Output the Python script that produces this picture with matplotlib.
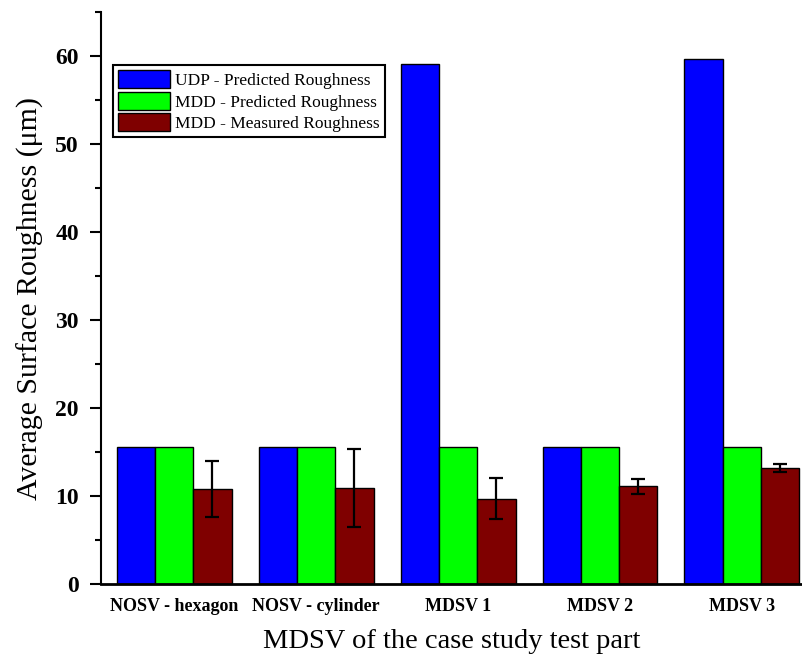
import numpy as np
import matplotlib.pyplot as plt
from matplotlib.ticker import MultipleLocator

# data
categories = ['NOSV - hexagon', 'NOSV - cylinder', 'MDSV 1', 'MDSV 2', 'MDSV 3']
udp_predicted = [15.6, 15.6, 59.1, 15.6, 59.7]
mdd_predicted = [15.6, 15.6, 15.6, 15.6, 15.6]
mdd_measured = [10.8, 10.9, 9.7, 11.1, 13.2]
mdd_measured_err = [3.2, 4.4, 2.3, 0.85, 0.45]

plt.rcParams['font.family'] = 'Liberation Serif'

fig = plt.figure(figsize=(8.03, 6.61), dpi=100)
ax = fig.add_axes([0.1258, 0.1165, 0.8742, 0.8653])

x = np.arange(len(categories))
w = 0.27
ax.bar(x - w, udp_predicted, w, color='#0000FF', edgecolor='black', linewidth=1,
       label='UDP - Predicted Roughness')
ax.bar(x, mdd_predicted, w, color='#00FF00', edgecolor='black', linewidth=1,
       label='MDD - Predicted Roughness')
ax.bar(x + w, mdd_measured, w, color='#7F0000', edgecolor='black', linewidth=1,
       label='MDD - Measured Roughness')
ax.errorbar(x + w, mdd_measured, yerr=mdd_measured_err, fmt='none', ecolor='black',
            elinewidth=1.6, capsize=5, capthick=1.6)

ax.set_xlim(-0.515, 4.43)
ax.set_ylim(0, 65)
ax.yaxis.set_major_locator(MultipleLocator(10))
ax.yaxis.set_minor_locator(MultipleLocator(5))
ax.set_xticks(x)
ax.set_xticklabels(categories, fontsize=13, fontweight='bold')
for lab in ax.get_yticklabels():
    lab.set_fontweight('heavy')
ax.tick_params(axis='y', which='major', direction='out', length=8, width=1.5,
               labelsize=17, pad=8)
ax.tick_params(axis='y', which='minor', direction='out', length=4, width=1.5)
ax.tick_params(axis='x', length=0, pad=10)

ax.spines['top'].set_visible(False)
ax.spines['right'].set_visible(False)
ax.spines['left'].set_linewidth(1.5)
ax.spines['bottom'].set_linewidth(2)

ax.set_ylabel('Average Surface Roughness (\u03bcm)', fontsize=21.5, labelpad=8)
ax.set_xlabel('MDSV of the case study test part', fontsize=20.5, labelpad=10)

leg = ax.legend(loc='upper left', bbox_to_anchor=(0.017, 0.907), fontsize=12.5,
                fancybox=False, edgecolor='black', framealpha=1, borderpad=0.3,
                handlelength=3.0, handleheight=1.2, handletextpad=0.3,
                labelspacing=0.15, borderaxespad=0, shadow=False)
leg.get_frame().set_linewidth(1.5)

fig.savefig('out.png', dpi=100)
